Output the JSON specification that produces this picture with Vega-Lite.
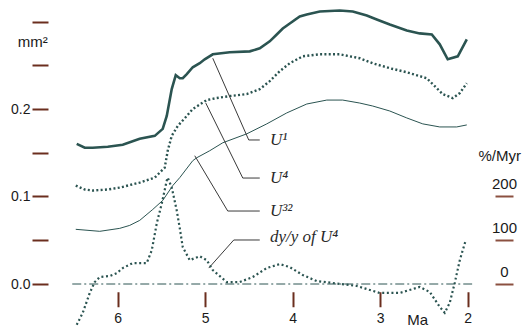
{
  "$schema": "https://vega.github.io/schema/vega-lite/v6.json",
  "autosize": {"type": "none"},
  "padding": {"left": 74, "top": 4, "right": 47.5, "bottom": 1.25},
  "width": 402.5,
  "height": 323.75,
  "background": "white",
  "config": {"view": {"stroke": null}},
  "datasets": {
    "u1": [
      {"ma": 6.469, "v": 0.1602}, {"ma": 6.377, "v": 0.1557}, {"ma": 6.286, "v": 0.1557}, {"ma": 6.114, "v": 0.1568},
      {"ma": 5.943, "v": 0.1591}, {"ma": 5.749, "v": 0.1659}, {"ma": 5.577, "v": 0.1693}, {"ma": 5.486, "v": 0.1773},
      {"ma": 5.44, "v": 0.192}, {"ma": 5.383, "v": 0.2227}, {"ma": 5.337, "v": 0.2386}, {"ma": 5.291, "v": 0.2352},
      {"ma": 5.257, "v": 0.2352}, {"ma": 5.211, "v": 0.2398}, {"ma": 5.143, "v": 0.2477}, {"ma": 5.063, "v": 0.2523},
      {"ma": 5.006, "v": 0.2568}, {"ma": 4.914, "v": 0.2625}, {"ma": 4.72, "v": 0.2648}, {"ma": 4.491, "v": 0.2659},
      {"ma": 4.377, "v": 0.2693}, {"ma": 4.263, "v": 0.2773}, {"ma": 4.183, "v": 0.2852}, {"ma": 4.114, "v": 0.292},
      {"ma": 4.034, "v": 0.2977}, {"ma": 3.92, "v": 0.3057}, {"ma": 3.84, "v": 0.308}, {"ma": 3.691, "v": 0.3114},
      {"ma": 3.463, "v": 0.3125}, {"ma": 3.314, "v": 0.3114}, {"ma": 3.154, "v": 0.3068}, {"ma": 3.04, "v": 0.3023},
      {"ma": 2.891, "v": 0.2966}, {"ma": 2.697, "v": 0.2898}, {"ma": 2.549, "v": 0.2864}, {"ma": 2.411, "v": 0.2852},
      {"ma": 2.32, "v": 0.2739}, {"ma": 2.229, "v": 0.2568}, {"ma": 2.114, "v": 0.2602}, {"ma": 2.011, "v": 0.2795}
    ],
    "u4": [
      {"ma": 6.48, "v": 0.1125}, {"ma": 6.377, "v": 0.108}, {"ma": 6.286, "v": 0.1068}, {"ma": 6.114, "v": 0.108},
      {"ma": 5.977, "v": 0.1102}, {"ma": 5.749, "v": 0.1159}, {"ma": 5.577, "v": 0.1216}, {"ma": 5.463, "v": 0.133},
      {"ma": 5.429, "v": 0.1523}, {"ma": 5.383, "v": 0.1693}, {"ma": 5.314, "v": 0.1807}, {"ma": 5.211, "v": 0.192},
      {"ma": 5.143, "v": 0.2}, {"ma": 4.983, "v": 0.2102}, {"ma": 4.869, "v": 0.2125}, {"ma": 4.72, "v": 0.2148},
      {"ma": 4.526, "v": 0.217}, {"ma": 4.377, "v": 0.2227}, {"ma": 4.263, "v": 0.2318}, {"ma": 4.149, "v": 0.2432},
      {"ma": 4.034, "v": 0.2523}, {"ma": 3.886, "v": 0.2602}, {"ma": 3.691, "v": 0.2625}, {"ma": 3.463, "v": 0.2625},
      {"ma": 3.234, "v": 0.258}, {"ma": 3.086, "v": 0.2523}, {"ma": 2.891, "v": 0.2466}, {"ma": 2.697, "v": 0.242},
      {"ma": 2.469, "v": 0.2352}, {"ma": 2.377, "v": 0.2261}, {"ma": 2.286, "v": 0.217}, {"ma": 2.171, "v": 0.2125},
      {"ma": 2.091, "v": 0.2182}, {"ma": 2.011, "v": 0.2295}
    ],
    "u32": [
      {"ma": 6.48, "v": 0.0625}, {"ma": 6.206, "v": 0.0602}, {"ma": 5.977, "v": 0.0636}, {"ma": 5.863, "v": 0.067},
      {"ma": 5.749, "v": 0.0727}, {"ma": 5.6, "v": 0.0852}, {"ma": 5.486, "v": 0.0955}, {"ma": 5.371, "v": 0.1125},
      {"ma": 5.291, "v": 0.1216}, {"ma": 5.143, "v": 0.1409}, {"ma": 5.097, "v": 0.1443}, {"ma": 4.949, "v": 0.1523},
      {"ma": 4.8, "v": 0.1614}, {"ma": 4.526, "v": 0.1716}, {"ma": 4.297, "v": 0.183}, {"ma": 4.069, "v": 0.1955},
      {"ma": 3.84, "v": 0.2057}, {"ma": 3.611, "v": 0.2102}, {"ma": 3.429, "v": 0.2102}, {"ma": 3.234, "v": 0.2068},
      {"ma": 3.086, "v": 0.2034}, {"ma": 2.891, "v": 0.1977}, {"ma": 2.697, "v": 0.1898}, {"ma": 2.514, "v": 0.183},
      {"ma": 2.32, "v": 0.1795}, {"ma": 2.126, "v": 0.1795}, {"ma": 2.011, "v": 0.1818}
    ],
    "dydy": [
      {"ma": 6.469, "p": -93.2}, {"ma": 6.4, "p": -65.9}, {"ma": 6.32, "p": -20.5}, {"ma": 6.263, "p": 4.5},
      {"ma": 6.206, "p": 15.9}, {"ma": 6.091, "p": 18.2}, {"ma": 6.011, "p": 25.0}, {"ma": 5.943, "p": 36.4},
      {"ma": 5.829, "p": 47.7}, {"ma": 5.669, "p": 47.7}, {"ma": 5.611, "p": 77.3}, {"ma": 5.554, "p": 138.6},
      {"ma": 5.497, "p": 184.1}, {"ma": 5.44, "p": 236.4}, {"ma": 5.429, "p": 243.2}, {"ma": 5.383, "p": 220.5},
      {"ma": 5.326, "p": 168.2}, {"ma": 5.291, "p": 127.3}, {"ma": 5.257, "p": 84.1}, {"ma": 5.177, "p": 54.5},
      {"ma": 5.063, "p": 63.6}, {"ma": 4.983, "p": 54.5}, {"ma": 4.914, "p": 31.8}, {"ma": 4.754, "p": 4.5},
      {"ma": 4.606, "p": 4.5}, {"ma": 4.457, "p": 15.9}, {"ma": 4.297, "p": 36.4}, {"ma": 4.149, "p": 45.5},
      {"ma": 4.034, "p": 38.6}, {"ma": 3.886, "p": 20.5}, {"ma": 3.726, "p": 6.8}, {"ma": 3.543, "p": 2.3},
      {"ma": 3.269, "p": -4.5}, {"ma": 3.006, "p": -20.5}, {"ma": 2.777, "p": -20.5}, {"ma": 2.549, "p": -6.8},
      {"ma": 2.434, "p": -18.2}, {"ma": 2.32, "p": -52.3}, {"ma": 2.263, "p": -65.9}, {"ma": 2.206, "p": -43.2},
      {"ma": 2.149, "p": 2.3}, {"ma": 2.091, "p": 54.5}, {"ma": 2.023, "p": 100}
    ],
    "zero": [{"ma": 6.52, "v": 0}, {"ma": 1.95, "v": 0}],
    "leaders": [
      {"id": "a", "i": 0, "ma": 4.914, "v": 0.258}, {"id": "a", "i": 1, "ma": 4.503, "v": 0.1646}, {"id": "a", "i": 2, "ma": 4.377, "v": 0.1646},
      {"id": "b", "i": 0, "ma": 4.994, "v": 0.2068}, {"id": "b", "i": 1, "ma": 4.571, "v": 0.1211}, {"id": "b", "i": 2, "ma": 4.377, "v": 0.1211},
      {"id": "c", "i": 0, "ma": 5.12, "v": 0.1466}, {"id": "c", "i": 1, "ma": 4.743, "v": 0.0834}, {"id": "c", "i": 2, "ma": 4.377, "v": 0.0834},
      {"id": "d", "i": 0, "ma": 4.96, "v": 0.0182}, {"id": "d", "i": 1, "ma": 4.674, "v": 0.0503}, {"id": "d", "i": 2, "ma": 4.377, "v": 0.0503}
    ],
    "curvelabels": [
      {"t": "U¹", "ma": 4.26, "v": 0.1646},
      {"t": "U⁴", "ma": 4.26, "v": 0.1211},
      {"t": "U³²", "ma": 4.26, "v": 0.0834},
      {"t": "dy/y of U⁴", "ma": 4.26, "v": 0.0537}
    ],
    "plainlabels": [
      {"t": "mm²", "ma": 6.971, "v": 0.2766},
      {"t": "%/Myr", "ma": 1.634, "v": 0.1463},
      {"t": "Ma", "ma": 2.571, "v": -0.0411}
    ]
  },
  "encoding": {
    "x": {
      "field": "ma", "type": "quantitative",
      "scale": {"domain": [1.9, 6.5], "reverse": true, "nice": false, "zero": false},
      "axis": {
        "orient": "bottom", "offset": -36, "values": [2, 3, 4, 5, 6], "format": "d",
        "domain": false, "grid": false, "tickSize": 15, "tickWidth": 2, "tickColor": "#6b2e1e",
        "labelPadding": 5, "labelFontSize": 14, "labelFont": "Liberation Sans", "labelColor": "#1a1a1a", "title": null
      }
    }
  },
  "layer": [
    {
      "layer": [
        {
          "data": {"name": "zero"},
          "mark": {"type": "line", "color": "#2c5553", "strokeWidth": 1, "strokeDash": [9, 3, 2, 3]},
          "encoding": {"y": {"field": "v", "type": "quantitative"}}
        },
        {
          "data": {"name": "u1"},
          "mark": {"type": "line", "color": "#2b5451", "strokeWidth": 2.6},
          "encoding": {"y": {"field": "v", "type": "quantitative"}}
        },
        {
          "data": {"name": "u4"},
          "mark": {"type": "line", "color": "#2b5451", "strokeWidth": 2.4, "strokeDash": [2, 2.3]},
          "encoding": {"y": {"field": "v", "type": "quantitative"}}
        },
        {
          "data": {"name": "u32"},
          "mark": {"type": "line", "color": "#2b5451", "strokeWidth": 1},
          "encoding": {"y": {"field": "v", "type": "quantitative"}}
        },
        {
          "data": {"name": "leaders"},
          "mark": {"type": "line", "color": "#3a3a3a", "strokeWidth": 1},
          "encoding": {
            "y": {"field": "v", "type": "quantitative"},
            "detail": {"field": "id"},
            "order": {"field": "i", "type": "quantitative"}
          }
        },
        {
          "data": {"name": "curvelabels"},
          "mark": {"type": "text", "align": "left", "baseline": "middle", "font": "Liberation Serif", "fontStyle": "italic", "fontSize": 17, "color": "#2a2a2a"},
          "encoding": {"y": {"field": "v", "type": "quantitative"}, "text": {"field": "t"}}
        },
        {
          "data": {"name": "plainlabels"},
          "mark": {"type": "text", "align": "center", "baseline": "middle", "font": "Liberation Sans", "fontSize": 15, "color": "#1a1a1a"},
          "encoding": {"y": {"field": "v", "type": "quantitative"}, "text": {"field": "t"}}
        }
      ],
      "encoding": {
        "y": {
          "type": "quantitative",
          "scale": {"domain": [-0.05, 0.32], "nice": false, "zero": false},
          "axis": {
            "orient": "left", "offset": 26, "values": [0, 0.05, 0.1, 0.15, 0.2, 0.25, 0.3],
            "labelExpr": "(abs(datum.value) < 0.001 || abs(datum.value - 0.1) < 0.001 || abs(datum.value - 0.2) < 0.001) ? format(datum.value, '.1f') : ''",
            "domain": false, "grid": false, "tickSize": 16, "tickWidth": 2, "tickColor": "#6b2e1e",
            "labelPadding": 2, "labelFontSize": 14, "labelFont": "Liberation Sans", "labelColor": "#1a1a1a", "title": null
          }
        }
      }
    },
    {
      "data": {"name": "dydy"},
      "mark": {"type": "line", "color": "#2b5451", "strokeWidth": 2.2, "strokeDash": [2, 2.6]},
      "encoding": {
        "y": {
          "field": "p", "type": "quantitative",
          "scale": {"domain": [-100, 640], "nice": false, "zero": false},
          "axis": {
            "orient": "right", "offset": 18.5, "values": [0, 100, 200],
            "domain": false, "grid": false, "tickSize": 18, "tickWidth": 2, "tickColor": "#8b5040",
            "labelAlign": "center", "labelBaseline": "middle", "labelPadding": -9, "labelOffset": -13,
            "labelFontSize": 15, "labelFont": "Liberation Sans", "labelColor": "#1a1a1a", "title": null
          }
        }
      }
    }
  ],
  "resolve": {"scale": {"y": "independent"}}
}
